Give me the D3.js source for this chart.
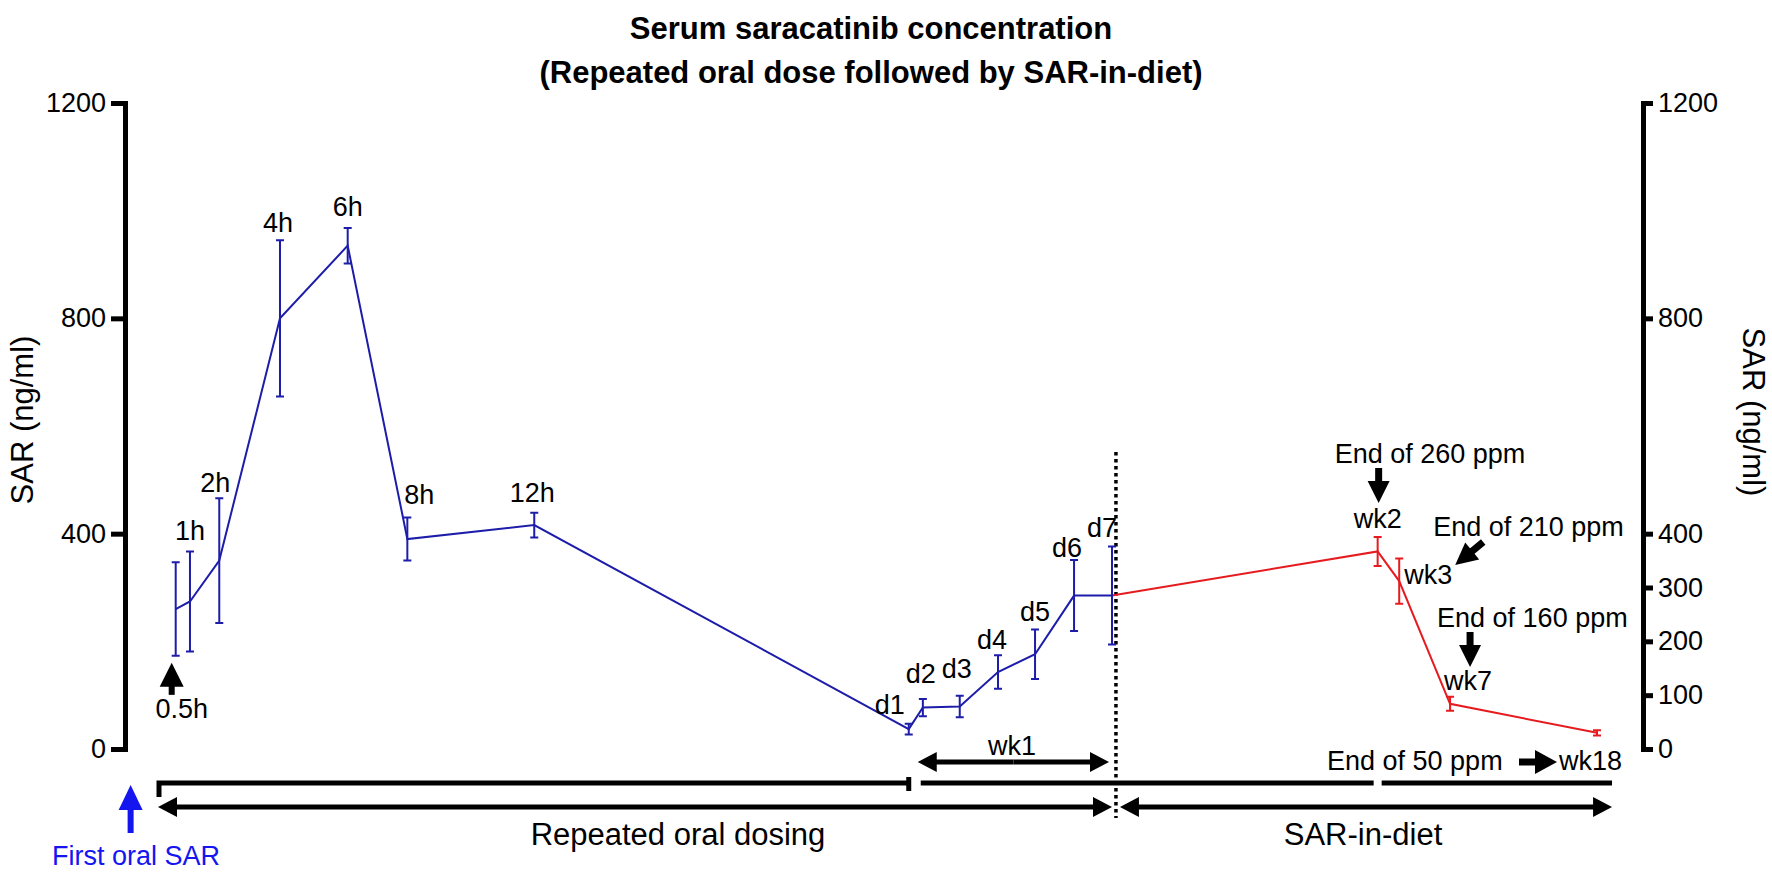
<!DOCTYPE html>
<html>
<head>
<meta charset="utf-8">
<script src="https://cdn.jsdelivr.net/npm/d3@7"></script>
<style>
  body { margin: 0; background: #fff; }
  text { font-family: "Liberation Sans", Arial, Helvetica, sans-serif; }
</style>
</head>
<body>
<svg id="chart" width="1772" height="872"></svg>
<script>
// repeated oral dosing samples (blue), x = position along the timeline (0 = left axis, 100 = right axis)
const oralLabels = ["0.5h", "1h", "2h", "4h", "6h", "8h", "12h", "d1", "d2", "d3", "d4", "d5", "d6", "d7"];
const oralPos = [3.34, 4.28, 6.21, 10.21, 14.67, 18.6, 26.96, 51.63, 52.56, 54.99, 57.51, 59.95, 62.52, 65.02];
const oralMean = [260, 274, 350, 800, 935, 390, 416, 37, 77, 79, 143, 176, 285, 285];
const oralErr = [87, 93, 116, 145, 33, 40, 23, 10, 16, 20, 31, 46, 66, 91];

// SAR-in-diet samples (red, right axis)
const dietLabels = ["wk2", "wk3", "wk7", "wk18"];
const dietPos = [82.52, 83.94, 87.29, 96.97];
const dietMean = [367, 312, 84, 30];
const dietErr = [27, 42, 13, 5];

const leftTicks = [0, 400, 800, 1200];
const rightTicks = [0, 100, 200, 300, 400, 800, 1200];

const dietStart = 65.28; // dotted line between the two phases

const svg = d3.select("#chart");
const x = d3.scaleLinear().domain([0, 100]).range([125, 1643]);
const y = d3.scaleLinear().domain([0, 1200]).range([749, 103]);

const blue = "#1d1daa";
const red = "#e51b1f";

const oral = oralLabels.map((l, i) => ({ label: l, pos: oralPos[i], mean: oralMean[i], err: oralErr[i] }));
const diet = dietLabels.map((l, i) => ({ label: l, pos: dietPos[i], mean: dietMean[i], err: dietErr[i] }));

// title
const title = svg.append("text")
  .attr("text-anchor", "middle")
  .attr("font-size", 31).attr("font-weight", "bold");
title.append("tspan").attr("x", 871).attr("y", 39).text("Serum saracatinib concentration");
title.append("tspan").attr("x", 871).attr("y", 83).text("(Repeated oral dose followed by SAR-in-diet)");

// axes
function styleAxis(g) {
  g.select(".domain").attr("stroke-width", 5).attr("stroke-linecap", "square");
  g.selectAll(".tick line").attr("stroke-width", 5);
  g.selectAll(".tick text").attr("font-size", 27).attr("fill", "#000");
}
svg.append("g")
  .attr("transform", `translate(${x(0)},0)`)
  .call(d3.axisLeft(y).tickValues(leftTicks).tickFormat(d3.format("d"))
    .tickSize(14).tickSizeOuter(0).tickPadding(5))
  .call(styleAxis);
svg.append("g")
  .attr("transform", `translate(${x(100)},0)`)
  .call(d3.axisRight(y).tickValues(rightTicks).tickFormat(d3.format("d"))
    .tickSize(10).tickSizeOuter(0).tickPadding(5))
  .call(styleAxis);

svg.append("text")
  .attr("transform", `translate(33,420) rotate(-90)`)
  .attr("text-anchor", "middle").attr("font-size", 31)
  .text("SAR (ng/ml)");
svg.append("text")
  .attr("transform", `translate(1743,412) rotate(90)`)
  .attr("text-anchor", "middle").attr("font-size", 31)
  .text("SAR (ng/ml)");

// dotted phase divider
svg.append("line")
  .attr("x1", x(dietStart)).attr("x2", x(dietStart))
  .attr("y1", 452).attr("y2", 818)
  .attr("stroke", "#000").attr("stroke-width", 3.5).attr("stroke-dasharray", "3.5,3.5");

// series lines
const line = d3.line().x(d => x(d.pos)).y(d => y(d.mean));
svg.append("path").datum(oral)
  .attr("d", line).attr("fill", "none").attr("stroke", blue).attr("stroke-width", 2);
svg.append("path").datum([oral[oral.length - 1]].concat(diet))
  .attr("d", line).attr("fill", "none").attr("stroke", red).attr("stroke-width", 2);

// error bars
function errorBars(data, color) {
  svg.append("g").selectAll("path").data(data).join("path")
    .attr("d", d => {
      const cx = x(d.pos), t = y(d.mean + d.err), b = y(d.mean - d.err);
      return `M${cx - 4},${t}H${cx + 4}M${cx},${t}V${b}M${cx - 4},${b}H${cx + 4}`;
    })
    .attr("fill", "none").attr("stroke", color).attr("stroke-width", 2);
}
errorBars(oral, blue);
errorBars(diet, red);

// point labels, offsets from the top of each error bar
const labelOffsets = {
  "1h": [0, -11, "middle"], "2h": [-4, -6, "middle"], "4h": [-2, -8, "middle"],
  "6h": [0, -12, "middle"], "8h": [12, -14, "middle"], "12h": [-2, -11, "middle"],
  "d1": [-4, -10, "end"], "d2": [-2, -16, "middle"], "d3": [-3, -18, "middle"],
  "d4": [-6, -6, "middle"], "d5": [0, -8, "middle"], "d6": [-7, -3, "middle"],
  "d7": [-10, -10, "middle"], "wk2": [0, -9, "middle"], "wk3": [5, 26, "start"],
  "wk7": [18, -7, "middle"], "wk18": [-38, 40, "start"]
};
const labelled = oral.concat(diet).filter(d => labelOffsets[d.label]);
svg.append("g").selectAll("text").data(labelled).join("text")
  .attr("x", d => x(d.pos) + labelOffsets[d.label][0])
  .attr("y", d => y(d.mean + d.err) + labelOffsets[d.label][1])
  .attr("text-anchor", d => labelOffsets[d.label][2])
  .attr("font-size", 27)
  .text(d => d.label);

// arrows
function arrow(x1, y1, x2, y2, o) {
  const len = Math.hypot(x2 - x1, y2 - y1);
  const ux = (x2 - x1) / len, uy = (y2 - y1) / len;
  const bx = x2 - ux * o.head, by = y2 - uy * o.head;
  svg.append("line")
    .attr("x1", x1).attr("y1", y1).attr("x2", bx + ux).attr("y2", by + uy)
    .attr("stroke", o.color || "#000").attr("stroke-width", o.width);
  svg.append("path")
    .attr("d", `M${x2},${y2}L${bx - uy * o.half},${by + ux * o.half}L${bx + uy * o.half},${by - ux * o.half}Z`)
    .attr("fill", o.color || "#000");
}
function doubleArrow(x1, x2, yv, o) {
  const mid = (x1 + x2) / 2;
  arrow(mid, yv, x1, yv, o);
  arrow(mid, yv, x2, yv, o);
}

const big = { head: 24, half: 12, width: 6 };
const small = { head: 19, half: 10, width: 5 };

// 0.5h marker below its error bar
const first = oral[0];
const fx = x(first.pos) - 4, fb = y(first.mean - first.err);
arrow(fx, fb + 39, fx, fb + 7, big);
svg.append("text").attr("x", fx + 10).attr("y", fb + 62)
  .attr("text-anchor", "middle").attr("font-size", 27).text("0.5h");

// dose-change notes
const wk2 = diet[0], wk3 = diet[1], wk7 = diet[2], wk18 = diet[3];
svg.append("text").attr("x", x(wk2.pos) - 43).attr("y", 463).attr("font-size", 27).text("End of 260 ppm");
arrow(x(wk2.pos) + 1, 468, x(wk2.pos) + 1, 503, { head: 22, half: 11, width: 7 });

svg.append("text").attr("x", x(wk3.pos) + 34).attr("y", 536).attr("font-size", 27).text("End of 210 ppm");
arrow(x(wk3.pos) + 84, 542, x(wk3.pos) + 56, 565, { head: 22, half: 11, width: 7 });

svg.append("text").attr("x", x(wk7.pos) - 13).attr("y", 627).attr("font-size", 27).text("End of 160 ppm");
arrow(x(wk7.pos) + 20, 632, x(wk7.pos) + 20, 667, { head: 22, half: 11, width: 7 });

svg.append("text").attr("x", x(wk18.pos) - 270).attr("y", 770).attr("font-size", 27).text("End of 50 ppm");
arrow(x(wk18.pos) - 78, 762, x(wk18.pos) - 40, 762, { head: 22, half: 12, width: 7 });

// week 1 span
const d1 = oral[7], d7 = oral[13];
svg.append("text").attr("x", 1012).attr("y", 755)
  .attr("text-anchor", "middle").attr("font-size", 27).text("wk1");
doubleArrow(x(d1.pos) + 9, x(d7.pos) - 3, 762, small);

// dosing brackets
const spanStart = x(2.24), spanEnd = x(97.96);
svg.append("path")
  .attr("d", `M${spanStart},797V783H${x(d1.pos)}`)
  .attr("fill", "none").attr("stroke", "#000").attr("stroke-width", 5);
svg.append("line")
  .attr("x1", x(d1.pos)).attr("x2", x(d1.pos)).attr("y1", 777).attr("y2", 791)
  .attr("stroke", "#000").attr("stroke-width", 5);
svg.append("line")
  .attr("x1", x(d1.pos) + 12).attr("x2", x(wk2.pos) - 4).attr("y1", 783).attr("y2", 783)
  .attr("stroke", "#000").attr("stroke-width", 5);
svg.append("line")
  .attr("x1", x(wk2.pos) + 4).attr("x2", spanEnd).attr("y1", 783).attr("y2", 783)
  .attr("stroke", "#000").attr("stroke-width", 5);

doubleArrow(spanStart - 1, x(d7.pos), 807, small);
doubleArrow(x(dietStart) + 4, spanEnd, 807, small);

svg.append("text").attr("x", 678).attr("y", 845)
  .attr("text-anchor", "middle").attr("font-size", 31).text("Repeated oral dosing");
svg.append("text").attr("x", 1363).attr("y", 845)
  .attr("text-anchor", "middle").attr("font-size", 31).text("SAR-in-diet");

// first dose marker
const firstBlue = "#1515f0";
arrow(x(0.37), 833, x(0.37), 785, { head: 25, half: 12, width: 6, color: firstBlue });
svg.append("text").attr("x", 52).attr("y", 865)
  .attr("font-size", 27).attr("fill", firstBlue).text("First oral SAR");
</script>
</body>
</html>
